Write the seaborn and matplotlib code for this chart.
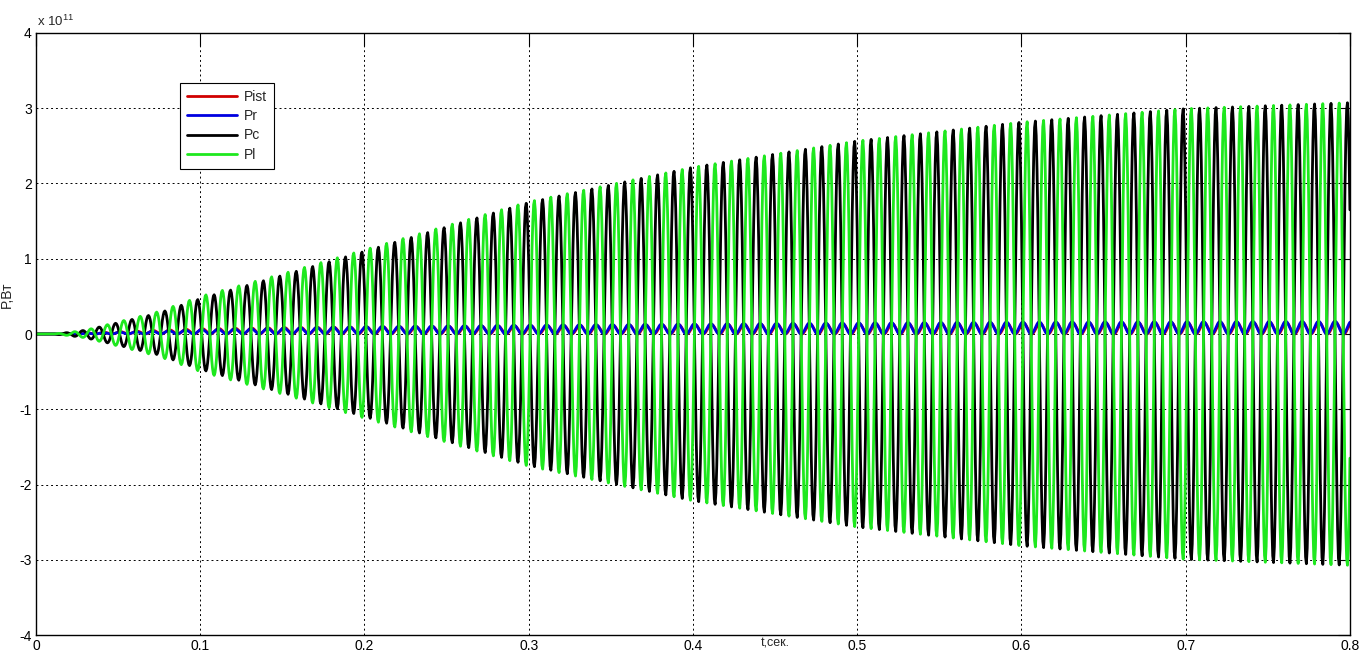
import numpy as np
import pandas as pd
import seaborn as sns
import matplotlib.pyplot as plt

# Огибающие колебаний мощности (единицы 1e11 Вт)
t_knots = [0, 0.01, 0.02, 0.03, 0.05, 0.075, 0.1, 0.15, 0.2, 0.3, 0.4, 0.5, 0.6, 0.7, 0.8]
env_pc = [0, 0, 0.02, 0.05, 0.15, 0.28, 0.47, 0.78, 1.1, 1.75, 2.22, 2.57, 2.82, 3.0, 3.08]
env_pl = [0, 0, 0.02, 0.05, 0.16, 0.30, 0.50, 0.80, 1.12, 1.76, 2.22, 2.57, 2.82, 3.0, 3.08]
env_pr = [0, 0, 0.005, 0.01, 0.025, 0.04, 0.06, 0.08, 0.10, 0.12, 0.135, 0.15, 0.16, 0.165, 0.17]
env_pist = [0, 0, 0.006, 0.012, 0.03, 0.05, 0.07, 0.085, 0.095, 0.11, 0.125, 0.135, 0.145, 0.15, 0.155]

f_osc = 100.0          # частота колебаний мощности, Гц
phase_pc = 0.41        # фаза в долях периода
phase_pl = -0.09       # Pl почти в противофазе с Pc
phase_pr = 0.16
phase_pist = 0.12

series = ["Pist", "Pr", "Pc", "Pl"]
colors = ["#d00000", "#0000e0", "#000000", "#1ee81e"]

xticks = [0, 0.1, 0.2, 0.3, 0.4, 0.5, 0.6, 0.7, 0.8]
xticklabels = ["0", "0.1", "0.2", "0.3", "0.4", "0.5", "0.6", "0.7", "0.8"]
yticks = [-4, -3, -2, -1, 0, 1, 2, 3, 4]

# сетка времени (шаг моделирования)
t = np.arange(0, 0.8 + 1e-9, 0.0005)
w = 2 * np.pi * f_osc

p_pc = np.interp(t, t_knots, env_pc) * np.sin(w * t + 2 * np.pi * phase_pc)
p_pl = np.interp(t, t_knots, env_pl) * np.sin(w * t + 2 * np.pi * phase_pl)
p_pr = np.interp(t, t_knots, env_pr) * (1 + np.sin(w * t + 2 * np.pi * phase_pr)) / 2
p_pist = np.interp(t, t_knots, env_pist) * (1 + np.sin(w * t + 2 * np.pi * phase_pist)) / 2

df = pd.concat([
    pd.DataFrame({"t": t, "P": p_pist, "s": "Pist"}),
    pd.DataFrame({"t": t, "P": p_pr, "s": "Pr"}),
    pd.DataFrame({"t": t, "P": p_pc, "s": "Pc"}),
    pd.DataFrame({"t": t, "P": p_pl, "s": "Pl"}),
])

sns.set_theme(style="white")
plt.rcParams["font.family"] = ["Liberation Sans", "DejaVu Sans"]
plt.rcParams["mathtext.default"] = "regular"

fig = plt.figure(figsize=(13.63, 6.56), dpi=100)
ax = fig.add_axes([0.0264, 0.032, 0.964, 0.9177])

sns.lineplot(data=df, x="t", y="P", hue="s", hue_order=series,
             palette=dict(zip(series, colors)), estimator=None, sort=False,
             linewidth=2.0, ax=ax)

ax.set_xlim(0, 0.8)
ax.set_ylim(-4, 4)
ax.set_xticks(xticks)
ax.set_xticklabels(xticklabels)
ax.set_yticks(yticks)
ax.set_yticklabels([str(v) for v in yticks])

ax.grid(True, color="black", linestyle=(0, (2, 3)), linewidth=0.7)
for sp in ax.spines.values():
    sp.set_color("black")
    sp.set_linewidth(1.0)
ax.tick_params(direction="in", length=9, width=0.8, top=True, right=True,
               labelsize=10, colors="black", pad=3)

ax.set_xlabel("t,сек.", fontsize=9)
ax.xaxis.set_label_coords(0.5624, -0.004)
ax.set_ylabel("P,Вт", fontsize=10)
ax.yaxis.set_label_coords(-0.0167, 0.565)

ax.text(0.001, 1.006, "x 10$^{11}$", transform=ax.transAxes, fontsize=9.5,
        ha="left", va="bottom")

handles, labels = ax.get_legend_handles_labels()
leg = ax.legend(handles, labels, loc="upper left", bbox_to_anchor=(0.1096, 0.917),
                borderaxespad=0, frameon=True, fancybox=False, edgecolor="black",
                framealpha=1, fontsize=10, handlelength=3.6, handletextpad=0.5,
                labelspacing=0.38, borderpad=0.5)
leg.get_frame().set_linewidth(0.8)
for h in leg.get_lines():
    h.set_linewidth(2.0)

fig.savefig("out.png", dpi=100)
plt.close()
